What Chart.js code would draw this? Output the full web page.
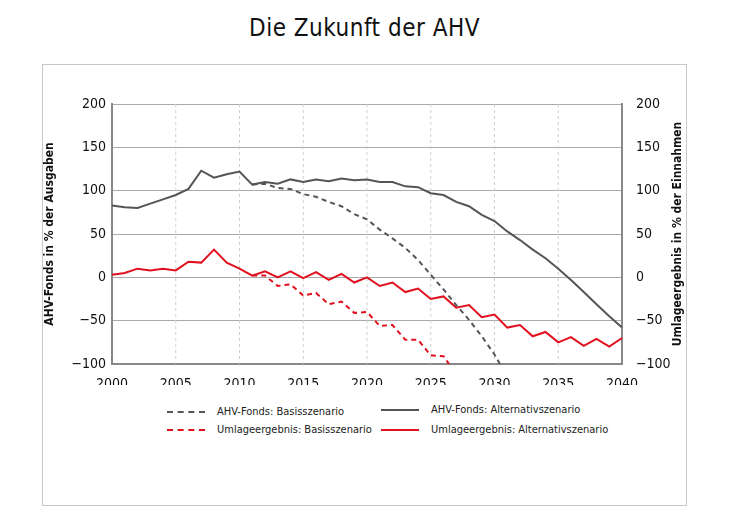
<!DOCTYPE html>
<html>
<head>
<meta charset="utf-8">
<script src="https://cdn.jsdelivr.net/npm/chart.js@4"></script>
<style>
  body { margin: 0; background: #fff; font-family: "DejaVu Sans Condensed", "Liberation Sans Narrow", sans-serif; }
  h1 { position: absolute; top: 14px; left: 0; width: 729px; text-align: center; margin: 0; font-size: 24px; font-weight: normal; color: #111; letter-spacing: 0.5px; }
  #box { position: absolute; left: 42px; top: 64px; width: 643px; height: 440px; border: 1px solid #c8c8c8; }
  #wrap { position: absolute; left: 0; top: 0; width: 643px; height: 320px; }
  .leg { position: absolute; font-size: 11px; color: #222; display: flex; align-items: center; }
  .leg span.l { display: inline-block; width: 38px; height: 0; margin-right: 12px; }
</style>
</head>
<body>
<h1>Die Zukunft der AHV</h1>
<div id="box">
  <div id="wrap"><canvas id="c"></canvas></div>
  <div class="leg" style="left:124px;top:340px"><span class="l" style="border-top:2px dashed #555"></span>AHV-Fonds: Basisszenario</div>
  <div class="leg" style="left:338px;top:338px"><span class="l" style="border-top:2px solid #555"></span>AHV-Fonds: Alternativszenario</div>
  <div class="leg" style="left:124px;top:358px"><span class="l" style="border-top:2px dashed #e0101e"></span>Umlageergebnis: Basisszenario</div>
  <div class="leg" style="left:338px;top:358px"><span class="l" style="border-top:2px solid #e0101e"></span>Umlageergebnis: Alternativszenario</div>
</div>
<script>
const years = [];
for (let y = 2000; y <= 2040; y++) years.push(y);

const fondsAlt = [83, 81, 80, 85, 90, 95, 102, 123, 115, 119, 122, 107, 110, 108, 113, 110, 113, 111, 114, 112,
  113, 110, 110, 105, 104, 97, 95, 87, 82, 72, 65, 53, 43, 32, 22, 10, -3, -17, -31, -45, -58];
const fondsBasis = [null, null, null, null, null, null, null, null, null, null, null, 107, 108, 103, 102, 96, 93, 87, 82, 73,
  67, 55, 45, 34, 20, 3, -14, -32, -49, -68, -89, -115, null, null, null, null, null, null, null, null, null];
const umlAlt = [3, 5, 10, 8, 10, 8, 18, 17, 32, 17, 10, 2, 7, 0, 7, -1, 6, -3, 4, -6,
  0, -10, -6, -17, -13, -25, -22, -35, -32, -46, -43, -58, -55, -68, -63, -75, -69, -79, -71, -80, -70];
const umlBasis = [null, null, null, null, null, null, null, null, null, null, null, 2, 2, -10, -8, -21, -18, -31, -28, -41,
  -40, -56, -55, -72, -72, -90, -91, -112, null, null, null, null, null, null, null, null, null, null, null, null, null];
const yTicks = [-100, -50, 0, 50, 100, 150, 200];

const fam = '"DejaVu Sans Condensed", "Liberation Sans Narrow", sans-serif';
const font = { family: fam, size: 14 };
const gray = '#555', red = '#e0101e';
const rightTitle = 'Umlageergebnis in % der Einnahmen';

new Chart(document.getElementById('c'), {
  type: 'line',
  data: {
    labels: years,
    datasets: [
      { data: fondsBasis, borderColor: gray, borderDash: [5, 4], borderWidth: 2, pointRadius: 0 },
      { data: fondsAlt, borderColor: gray, borderWidth: 2, pointRadius: 0 },
      { data: umlBasis, borderColor: red, borderDash: [5, 4], borderWidth: 2, pointRadius: 0 },
      { data: umlAlt, borderColor: red, borderWidth: 2, pointRadius: 0 }
    ]
  },
  options: {
    responsive: true, maintainAspectRatio: false, animation: false,
    layout: { padding: { top: 39 } },
    plugins: { legend: { display: false }, tooltip: { enabled: false } },
    scales: {
      x: {
        offset: false,
        afterFit: s => { s.height = 21; },
        grid: { display: false },
        border: { color: '#888', width: 2 },
        ticks: {
          autoSkip: false, maxRotation: 0, color: '#111', font, padding: 4,
          callback: (v, i) => (years[i] % 5 === 0 ? years[i] : '')
        }
      },
      y: {
        min: -100, max: 200,
        afterFit: s => { s.width = 69; },
        afterBuildTicks: s => { s.ticks = yTicks.map(v => ({ value: v })); },
        grid: { color: '#aaa', drawTicks: false },
        border: { color: '#888', width: 2 },
        ticks: { color: '#111', font, padding: 6, callback: v => String(v).replace('-', '\u2212') },
        title: { display: true, text: 'AHV-Fonds in % der Ausgaben', color: '#111', font: { family: fam, size: 12, weight: 'bold' }, padding: 0 }
      },
      y2: {
        position: 'right', min: -100, max: 200,
        afterFit: s => { s.width = 64; },
        afterBuildTicks: s => { s.ticks = yTicks.map(v => ({ value: v })); },
        grid: { display: false },
        border: { color: '#888', width: 2 },
        ticks: { color: '#111', font, padding: 6, callback: v => String(v).replace('-', '\u2212') }
      }
    }
  },
  plugins: [{
    id: 'extras',
    beforeDatasetsDraw(chart) {
      const { ctx, chartArea, scales } = chart;
      ctx.save();
      ctx.strokeStyle = '#cfcfcf'; ctx.lineWidth = 1; ctx.setLineDash([3, 3]);
      years.forEach((y, i) => {
        if (y % 5 === 0 && y > 2000 && y < 2040) {
          const px = scales.x.getPixelForValue(i);
          ctx.beginPath(); ctx.moveTo(px, chartArea.top); ctx.lineTo(px, chartArea.bottom); ctx.stroke();
        }
      });
      ctx.restore();
    },
    afterDraw(chart) {
      const { ctx, chartArea } = chart;
      ctx.save();
      ctx.translate(chart.width - 8, (chartArea.top + chartArea.bottom) / 2);
      ctx.rotate(-Math.PI / 2);
      ctx.font = 'bold 12px ' + fam;
      ctx.fillStyle = '#111'; ctx.textAlign = 'center'; ctx.textBaseline = 'middle';
      ctx.fillText(rightTitle, 0, 0);
      ctx.restore();
    }
  }]
});
</script>
</body>
</html>
